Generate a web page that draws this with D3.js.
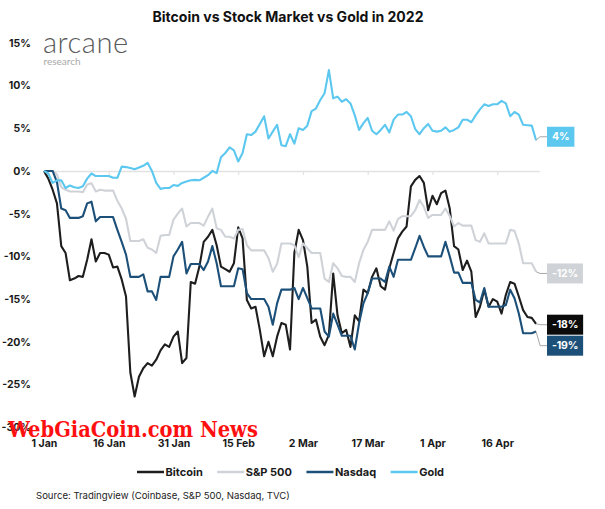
<!DOCTYPE html>
<html><head><meta charset="utf-8">
<script src="https://cdn.jsdelivr.net/npm/d3@7"></script>
<style>
html,body{margin:0;padding:0;background:#fff;}
svg{display:block;font-family:Inter,"Noto Sans",sans-serif;}
</style></head><body>
<svg id="chart" width="605" height="509"></svg>
<script>
// ---------- data (percent change since 1 Jan 2022, daily) ----------
const startDate = "2022-01-01";
const bitcoin = [0,-0.9,-2.2,-3.8,-8.8,-9.6,-12.8,-12.6,-12.3,-12.4,-10.4,-8.0,-10.6,-9.6,-9.6,-9.8,-11.3,-11.2,-12.7,-14.7,
-23.6,-26.4,-24.1,-23.1,-22.5,-22.8,-22.1,-21.0,-20.3,-20.6,-19.4,-18.8,-22.5,-21.9,-13.0,-13.2,-11.2,-8.3,-7.7,-6.9,
-8.7,-11.2,-11.5,-11.8,-10.8,-6.6,-7.9,-15.1,-16.1,-15.9,-18.6,-21.7,-20.0,-21.7,-19.4,-17.8,-18.0,-20.9,-9.6,-6.9,
-8.1,-11.2,-17.8,-17.4,-19.4,-20.4,-19.2,-12.0,-16.9,-19.0,-18.6,-20.6,-16.9,-17.6,-13.9,-14.3,-12.4,-11.4,-13.5,-13.9,
-11.4,-9.6,-7.9,-7.1,-6.5,-1.8,-1.05,-0.6,-1.4,-4.6,-2.9,-3.9,-2.6,-2.3,-4.4,-8.8,-9.2,-11.6,-10.5,-11.8,
-17.1,-15.9,-13.9,-15.9,-15.0,-15.3,-16.7,-14.5,-13.0,-13.2,-14.7,-16.3,-17.1,-17.2,-17.9];
const sp500 = [0,0,0,-0.4,-1.9,-2.2,-2.4,-2.4,-2.4,-2.5,-1.6,-1.45,-2.4,-2.2,-2.3,-2.3,-2.3,-3.5,-4.4,-5.6,
-8.2,-8.2,-8.2,-8.0,-9.0,-9.2,-9.6,-7.6,-7.5,-7.5,-5.7,-5.0,-4.4,-6.5,-6.1,-6.1,-6.1,-6.4,-5.35,-4.4,
-6.7,-6.9,-7.7,-7.7,-7.9,-6.9,-6.8,-8.7,-9.3,-9.3,-9.3,-9.3,-10.2,-11.8,-10.9,-8.5,-8.5,-8.5,-8.7,-10.1,
-8.5,-9.05,-9.6,-9.6,-9.6,-12.6,-13.0,-10.8,-11.4,-12.3,-12.4,-12.4,-13.0,-10.8,-9.25,-8.3,-6.9,-6.9,-6.9,-6.9,
-5.9,-7.0,-5.65,-5.3,-5.3,-5.3,-4.6,-3.4,-4.2,-5.5,-5.15,-5.15,-5.15,-4.4,-5.3,-6.5,-6.1,-6.4,-6.4,-6.4,
-8.1,-8.3,-7.3,-8.5,-8.5,-8.5,-8.5,-8.5,-6.9,-7.0,-8.5,-10.8,-10.8,-10.8,-11.8];
const nasdaq = [0,0,0,-1.3,-4.4,-4.6,-5.5,-5.5,-5.5,-5.3,-3.8,-3.6,-5.9,-5.4,-5.4,-5.4,-5.4,-6.9,-8.3,-9.8,
-12.4,-12.4,-12.4,-12.1,-14.1,-14.1,-15.1,-12.4,-12.4,-12.4,-10.0,-9.2,-8.3,-12.0,-10.9,-10.9,-10.9,-11.6,-10.6,-8.8,
-10.8,-13.5,-13.5,-13.5,-13.5,-11.4,-11.5,-14.3,-15.0,-15.0,-15.0,-15.0,-15.9,-18.0,-15.5,-13.9,-13.9,-13.9,-13.7,-15.0,
-13.7,-14.9,-16.1,-16.1,-16.1,-18.8,-19.4,-16.7,-18.0,-19.3,-19.3,-19.3,-20.9,-17.8,-15.5,-14.3,-12.6,-12.6,-12.6,-13.0,
-11.2,-12.4,-10.4,-10.4,-10.4,-10.4,-9.05,-7.6,-8.9,-10.0,-10.0,-10.0,-10.0,-8.3,-10.0,-11.9,-11.9,-13.1,-13.1,-13.1,
-15.1,-15.4,-13.7,-15.9,-15.9,-15.9,-15.9,-15.7,-13.9,-14.9,-16.7,-19.0,-19.0,-19.0,-18.8];
const gold = [0,-0.3,-1.4,-1.1,-1.1,-2.0,-1.7,-1.9,-2.0,-1.8,-0.9,-0.3,-0.6,-0.6,-0.6,-0.6,-0.8,-0.8,0.5,0.45,
0.35,0.2,0.4,0.6,0.95,0.0,-1.4,-2.1,-2.0,-2.0,-1.65,-1.75,-1.4,-1.25,-1.1,-1.05,-1.1,-0.8,-0.5,0,
-0.25,1.6,2.1,2.75,2.4,1.1,2.1,4.3,4.2,4.6,5.5,6.4,3.8,4.6,5.4,3.0,2.9,4.3,3.2,5.0,
4.8,5.3,7.0,7.3,8.3,9.1,11.8,8.5,8.7,8.1,8.4,7.9,6.5,4.8,5.6,6.2,4.7,4.3,4.8,5.4,
4.5,6.0,6.6,6.6,6.9,6.4,4.9,4.3,5.0,5.5,4.7,4.6,4.7,5.1,4.6,4.8,5.1,6.0,6.0,5.7,
6.5,7.2,7.8,7.6,7.8,7.8,8.2,7.9,6.4,6.9,6.6,5.4,5.35,5.3,3.6];

const seriesNames  = ["Bitcoin","S&P 500","Nasdaq","Gold"];
const seriesColors = ["#1e1e1e","#cfd3d8","#1d5079","#5cc8ef"];
const labelColors  = ["#0b0b0b","#cfd3d8","#1d5079","#5cc8ef"];
const yTicks = [15,10,5,0,-5,-10,-15,-20,-25,-30];
const xTickDates  = ["2022-01-01","2022-01-16","2022-01-31","2022-02-15","2022-03-02","2022-03-17","2022-04-01","2022-04-16"];
const xTickLabels = ["1 Jan","16 Jan","31 Jan","15 Feb","2 Mar","17 Mar","1 Apr","16 Apr"];
const titleText  = "Bitcoin vs Stock Market vs Gold in 2022";
const sourceText = "Source: Tradingview (Coinbase, S&P 500, Nasdaq, TVC)";

// ---------- setup ----------
const svg = d3.select("#chart");
const parse = d3.utcParse("%Y-%m-%d");
const t0 = parse(startDate);
const x = d3.scaleUtc().domain([t0, d3.utcHour.offset(parse("2022-04-25"), 19)]).range([44, 539.5]);
const y = d3.scaleLinear().domain([-30, 15]).range([427.2, 42.8]);
const allSeries = [bitcoin, sp500, nasdaq, gold];
const dates = bitcoin.map((_, i) => d3.utcDay.offset(t0, i));
const tickDates = xTickDates.map(parse);
const FONT = "Inter, 'Noto Sans', sans-serif";

function fitWidth(sel, w) {
  const n = sel.node(); const cur = n.getComputedTextLength();
  const fs = parseFloat(sel.attr("font-size"));
  sel.attr("font-size", (fs * w / cur).toFixed(2));
}

// title
const title = svg.append("text").attr("x", 288).attr("y", 22).attr("text-anchor", "middle")
  .attr("font-weight", 700).attr("font-size", 14).attr("fill", "#111").text(titleText);
fitWidth(title, 271);

// logo
const logo = svg.append("text").attr("x", 43).attr("y", 53).attr("font-family", "Lato, 'Noto Sans', sans-serif")
  .attr("font-weight", 300).attr("font-size", 26).attr("fill", "#5a5a5a").attr("letter-spacing", 0.5).text("arcane");
fitWidth(logo, 86);
const logo2 = svg.append("text").attr("x", 43.5).attr("y", 65).attr("font-family", "Lato, 'Noto Sans', sans-serif")
  .attr("font-weight", 400).attr("font-size", 9).attr("fill", "#a9a9a9").text("research");
fitWidth(logo2, 37);

// zero line with ticks
const zeroAxis = svg.append("g").attr("transform", `translate(0,${y(0)})`)
  .call(d3.axisBottom(x).tickValues(tickDates).tickSize(4).tickSizeOuter(0).tickFormat(""));
zeroAxis.select(".domain").attr("stroke", "#e2e2e2").attr("stroke-width", 1.6);
zeroAxis.selectAll(".tick line").attr("stroke", "#e2e2e2").attr("stroke-width", 1.2);

// x labels
const xLab = svg.append("g").attr("transform", "translate(0,440)")
  .call(d3.axisBottom(x).tickValues(tickDates).tickSize(0).tickPadding(0)
    .tickFormat((d, i) => xTickLabels[i]));
xLab.select(".domain").remove();
xLab.selectAll("text").attr("font-family", FONT).attr("font-weight", 700).attr("font-size", 10.5).attr("fill", "#1a1a1a");

// y labels
const yLab = svg.append("g").attr("transform", "translate(31,0)")
  .call(d3.axisLeft(y).tickValues(yTicks).tickSize(0).tickPadding(0).tickFormat(d => d + "%"));
yLab.select(".domain").remove();
yLab.selectAll("text").attr("font-family", FONT).attr("font-weight", 700).attr("font-size", 10.5).attr("fill", "#1a1a1a");

// lines
const line = d3.line().x((d, i) => x(dates[i])).y(d => y(d)).curve(d3.curveLinear);
allSeries.forEach((s, k) => {
  svg.append("path").datum(s).attr("d", line).attr("fill", "none")
    .attr("stroke", seriesColors[k]).attr("stroke-width", 2.1).attr("stroke-linejoin", "round");
});

// end labels
const lastI = bitcoin.length - 1;
const ends = allSeries.map((s, k) => ({k, v: s[lastI], lab: Math.round(s[lastI])}))
  .map(e => ({...e, ly: y(e.lab)}));
ends.sort((a, b) => a.ly - b.ly);
const boxH = 20;
for (let i = 1; i < ends.length; i++) {
  if (ends[i].ly < ends[i - 1].ly + boxH + 1) ends[i].ly = ends[i - 1].ly + boxH + 1;
}
const bx = 547;
ends.forEach(e => {
  const ex = x(dates[lastI]), ey = y(e.v);
  svg.append("path").attr("d", `M${ex},${ey}L${ex + 4},${e.ly}L${bx},${e.ly}`)
    .attr("fill", "none").attr("stroke", "#a6a6a6").attr("stroke-width", 1);
  const g = svg.append("g");
  const txt = g.append("text").attr("y", e.ly).attr("dy", "0.35em").attr("font-weight", 700)
    .attr("font-size", 10.5).attr("fill", "#fff").attr("letter-spacing", -0.2)
    .text(e.lab + "%");
  const w = txt.node().getComputedTextLength() + 10;
  g.insert("rect", "text").attr("x", bx).attr("y", e.ly - boxH / 2).attr("width", w).attr("height", boxH)
    .attr("fill", labelColors[e.k]);
  txt.attr("x", bx + w / 2).attr("text-anchor", "middle");
});

// legend
let lx = 137;
seriesNames.forEach((name, k) => {
  svg.append("line").attr("x1", lx).attr("x2", lx + 27).attr("y1", 472).attr("y2", 472)
    .attr("stroke", seriesColors[k]).attr("stroke-width", 2.5);
  const t = svg.append("text").attr("x", lx + 28.5).attr("y", 472).attr("dy", "0.35em")
    .attr("font-weight", 700).attr("font-size", 11).attr("fill", "#1a1a1a").text(name);
  lx += 28.5 + t.node().getComputedTextLength() + 14.5;
});

// source
const src = svg.append("text").attr("x", 36).attr("y", 496).attr("dy", "0.35em").attr("font-size", 10)
  .attr("fill", "#222").text(sourceText);
fitWidth(src, 254);

// watermark
const wm = svg.append("text").attr("x", 8).attr("y", 437).attr("font-family", "'DejaVu Serif Condensed','DejaVu Serif',serif")
  .attr("font-weight", 700).attr("font-size", 24).attr("fill", "#ff1010").text("WebGiaCoin.com News");
fitWidth(wm, 250);
</script>
</body></html>
